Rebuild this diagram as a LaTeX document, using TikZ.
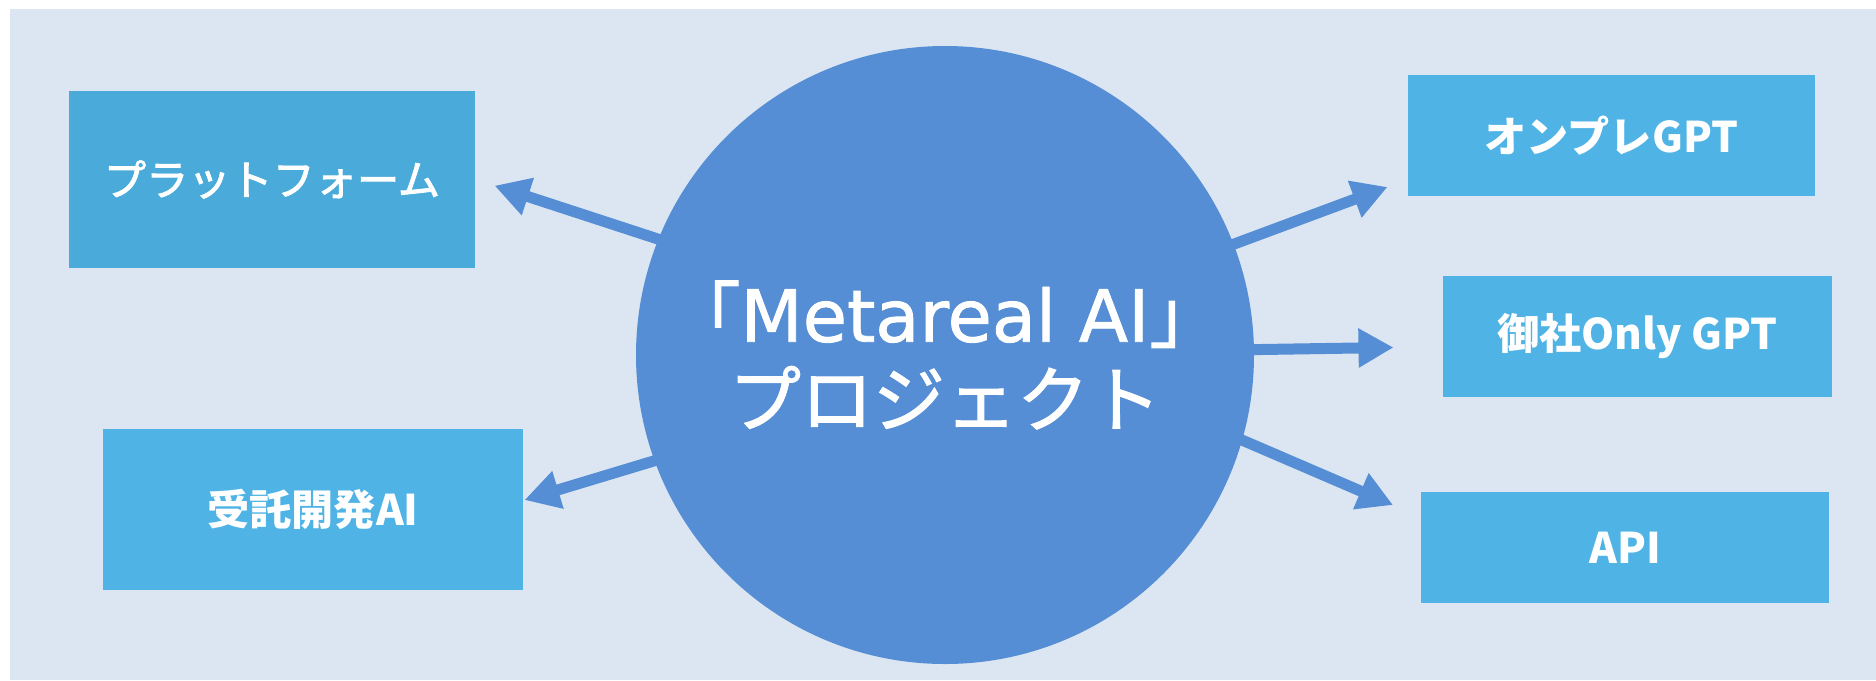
\documentclass[tikz,border=0pt]{standalone}
\usepackage{fontspec}
\setmainfont{Noto Sans CJK JP}
\newfontfamily\jpsemi[FakeBold=1.6]{Noto Sans CJK JP}
\newfontfamily\jpplat[FakeBold=2.2]{Noto Sans CJK JP}
\newfontfamily\latinsemi[FakeBold=1.2]{DejaVu Sans}
\usetikzlibrary{arrows.meta}
\definecolor{pageBack}{RGB}{220,230,242}
\definecolor{hubBlue}{RGB}{85,142,213}
\definecolor{boxBlue}{RGB}{79,179,229}
\definecolor{boxDeep}{RGB}{74,171,219}
\begin{document}
\begin{tikzpicture}
[boxDecorate/.style={shape=rectangle,fill=boxBlue,text=white,inner sep=0pt,%
    font=\fontsize{12}{14}\selectfont\bfseries},%
  hubDecorate/.style={shape=circle,fill=hubBlue,text=white,inner sep=0pt,%
    minimum size=6.18cm,align=center,font=\fontsize{20.5}{24}\selectfont\jpsemi},%
  arrowDecorate/.style={-{Triangle[length=3.5mm,width=3.7mm]},draw=hubBlue,%
    line width=1.1mm,shorten <=-1mm}]
\useasboundingbox (0,0) rectangle (18.76,6.8);
%% background
\fill[pageBack] (0.10,0) rectangle (18.76,6.71);
%% hub
\node (hub) at (9.45,3.25) [hubDecorate] {「{\latinsemi Metareal AI}」\\プロジェクト};
%% boxes or targets
\node (platform) at (2.72,5.005) [boxDecorate,fill=boxDeep,font=\fontsize{12}{14}\selectfont\jpplat,
  minimum width=4.06cm,minimum height=1.77cm] {プラットフォーム};
\foreach \nodename/\x/\y/\w/\h/\label in {
  contract/3.13/1.705/4.20/1.61/受託開発AI,
  onprem/16.115/5.445/4.07/1.21/オンプレGPT,
  only/16.375/3.435/3.89/1.21/御社Only GPT,
  api/16.25/1.325/4.08/1.11/API}
{
  \node (\nodename) at (\x,\y) [boxDecorate,minimum width=\w cm,minimum height=\h cm] {\label};
}
%% arrow tips
\foreach \tipname/\x/\y in {
  platformTip/4.946/4.943, contractTip/5.245/1.80, onpremTip/13.875/4.93,
  onlyTip/13.935/3.3255, apiTip/13.93/1.75}
{
  \coordinate (\tipname) at (\x,\y);
}
%% arrows or connectors
\path
\foreach \startangle/\endnode in {158/platformTip, 200.1/contractTip,
  21.5/onpremTip, 1.4/onlyTip, -16.5/apiTip}
{
  (hub.\startangle) edge[arrowDecorate] (\endnode)
};
\end{tikzpicture}
\end{document}
